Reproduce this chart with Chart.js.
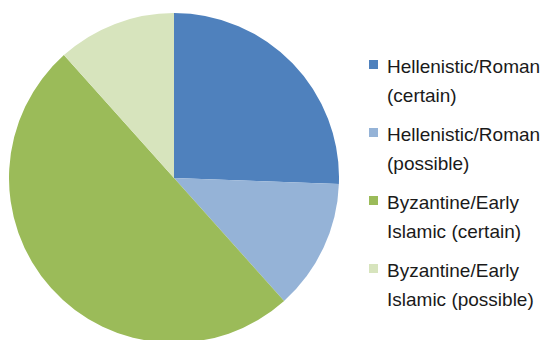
<!DOCTYPE html>
<html>
<head>
<meta charset="utf-8">
<script src="https://cdn.jsdelivr.net/npm/chart.js@4/dist/chart.umd.min.js"></script>
<style>
  html, body { margin: 0; padding: 0; background: #ffffff; overflow: hidden; }
  body { width: 543px; height: 340px; position: relative; }
  #pieBox { position: absolute; left: 9px; top: 13px; width: 330px; height: 330px; }
  #legend { position: absolute; left: 369px; top: 52px; font-family: "Liberation Sans", Arial, sans-serif;
            font-size: 19px; color: #1a1a1a; }
  .item { position: relative; padding-left: 18px; line-height: 29px; margin-bottom: 10px; white-space: nowrap; }
  .swatch { position: absolute; left: 0; top: 8px; width: 9px; height: 9px; }
</style>
</head>
<body>
<div id="pieBox"><canvas id="pie"></canvas></div>
<div id="legend"></div>
<script>
// Categories (each split into the two lines shown in the legend)
const categories = [
  ["Hellenistic/Roman", "(certain)"],
  ["Hellenistic/Roman", "(possible)"],
  ["Byzantine/Early", "Islamic (certain)"],
  ["Byzantine/Early", "Islamic (possible)"]
];
// Number of sites per category
const siteCounts = [22, 11, 43, 10];
// Slice colours
const sliceColors = ["#4F81BD", "#95B3D7", "#9BBB59", "#D7E4BD"];

new Chart(document.getElementById("pie"), {
  type: "pie",
  data: {
    labels: categories.map(c => c.join(" ")),
    datasets: [{
      data: siteCounts,
      backgroundColor: sliceColors,
      borderWidth: 0
    }]
  },
  options: {
    responsive: true,
    maintainAspectRatio: false,
    animation: false,
    layout: { padding: 0 },
    plugins: {
      legend: { display: false },
      tooltip: { enabled: false }
    }
  }
});

// Legend to the right of the pie
const legend = document.getElementById("legend");
categories.forEach((lines, i) => {
  const item = document.createElement("div");
  item.className = "item";
  const sw = document.createElement("span");
  sw.className = "swatch";
  sw.style.background = sliceColors[i];
  item.appendChild(sw);
  lines.forEach((line, j) => {
    if (j > 0) item.appendChild(document.createElement("br"));
    item.appendChild(document.createTextNode(line));
  });
  legend.appendChild(item);
});
</script>
</body>
</html>
